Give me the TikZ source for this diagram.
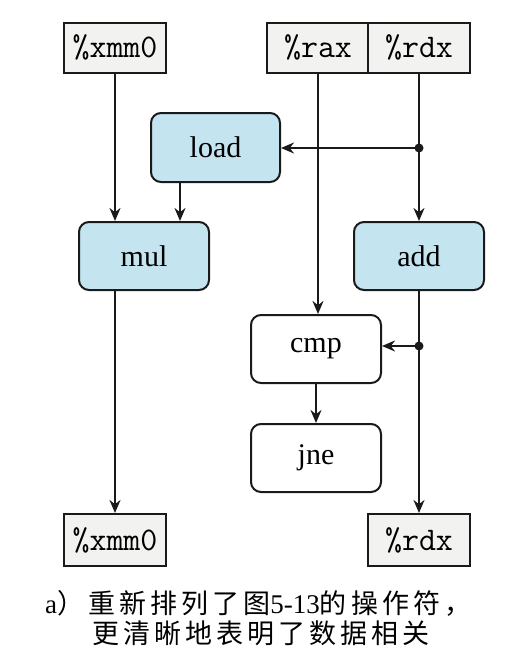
\documentclass[tikz,border=0pt]{standalone}
\usepackage{fontspec}
\setmainfont{Liberation Serif}
\newfontfamily\cjk[LetterSpace=15]{Noto Sans CJK SC}
\usetikzlibrary{arrows.meta,calc}
\definecolor{opblue}{HTML}{C4E4F0}
\definecolor{regfill}{HTML}{F2F2F0}
\definecolor{edgec}{HTML}{1A1A1A}
\begin{document}
\begin{tikzpicture}[x=1pt,y=-1pt,
  reg/.style={draw=edgec,line width=2pt,fill=regfill,minimum width=102pt,minimum height=50pt,inner sep=0pt,font=\fontsize{33}{35}\selectfont\ttfamily},
  opbox/.style={draw=edgec,line width=2pt,rounded corners=10pt,minimum width=130pt,minimum height=68pt,inner sep=0pt,font=\fontsize{30}{32}\selectfont},
  blueop/.style={opbox,fill=opblue},
  plainop/.style={opbox,fill=white},
  link/.style={draw=edgec,line width=2.2pt,-{Stealth[length=13pt,width=11pt]}},
  junction/.style={circle,fill=edgec,inner sep=0pt,minimum size=9pt}]
\useasboundingbox (0,0) rectangle (527,667);
\fill[white] (0,0) rectangle (527,667);
% registers at top
\node[reg] (xmmT) at (115,47.5) {\%xmm0};
\node[reg] (raxT) at (318,47.5) {\%rax};
\node[reg] (rdxT) at (419,47.5) {\%rdx};
% operations
\node[blueop,minimum width=129pt,minimum height=69pt] (load) at (215.5,147.5) {load};
\node[blueop] (mul) at (144,256) {mul};
\node[blueop] (add) at (419,256) {add};
\node[plainop] (cmp) at (316,349) {cmp};
\node[plainop] (jne) at (316,458) {jne};
% registers at bottom
\node[reg,minimum height=52pt] (xmmB) at (115,540) {\%xmm0};
\node[reg,minimum height=52pt] (rdxB) at (419,540) {\%rdx};
% junctions
\node[junction] (j1) at (419,148) {};
\node[junction] (j2) at (419,346) {};
\coordinate (loadout) at (180,182);
% connectors
\draw[link] (xmmT.south) -- (xmmT.south |- mul.north);
\draw[link] (loadout) -- (loadout |- mul.north);
\draw[link] (raxT.south) -- (raxT.south |- cmp.north);
\draw[link] (rdxT.south) -- (add.north);
\draw[link] (j1.center) -- (j1.center -| load.east);
\draw[link] (add.south) -- (rdxB.north);
\draw[link] (j2.center) -- (j2.center -| cmp.east);
\draw[link] (cmp.south) -- (jne.north);
\draw[link] (mul.south -| xmmB.north) -- (xmmB.north);
% caption
\node[anchor=west,inner sep=0pt,font=\fontsize{27}{29}\selectfont] (cap1) at (45,603) {a{\cjk）重新排列了图}5-13{\cjk 的操作符，}};
\node[anchor=west,inner sep=0pt,font=\fontsize{27}{29}\selectfont\cjk] (cap2) at (92,633) {更清晰地表明了数据相关};
\end{tikzpicture}
\end{document}
